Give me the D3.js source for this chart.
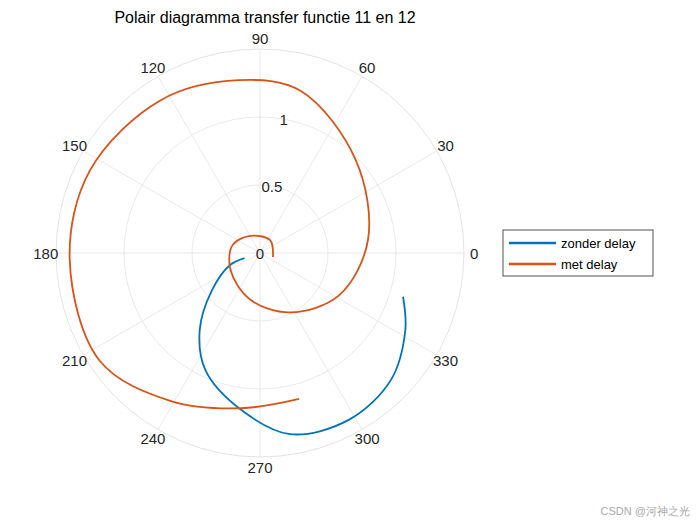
<!DOCTYPE html><html><head><meta charset="utf-8"><script src="https://cdn.jsdelivr.net/npm/d3@7"></script>
<style>body{margin:0;background:#fff}text{font-family:Arial,"Liberation Sans",sans-serif}</style></head><body>
<svg id="c" width="700" height="525"></svg>
<script>
const title="Polair diagramma transfer functie 11 en 12";
const seriesNames=["zonder delay","met delay"];
const colors=["#0072BD","#D95319"];
// angles (deg), magnitudes
const blueTheta=[-17,-28,-44,-62,-80.6,-97,-115,-128,-142,-158,-162];
const blueR=[1.10,1.21,1.34,1.39,1.35,1.16,0.95,0.72,0.45,0.24,0.12];
const orangeTheta=[-17,52,120,164,210,258,297,332,367,404,436,457,483,514,542,574,599,623,645];
const orangeR=[0.10,0.12,0.145,0.21,0.25,0.35,0.49,0.66,0.80,0.98,1.23,1.28,1.34,1.39,1.40,1.42,1.27,1.15,1.11];
const rTicks=[0,0.5,1];
const rGrid=[0.5,1,1.5];
const thetaTicks=[0,30,60,90,120,150,180,210,240,270,300,330];

const svg=d3.select("#c"),cx=260,cy=253;
const r=d3.scaleLinear().domain([0,1.5]).range([0,204]);
const pt=(t,v)=>[cx+r(v)*Math.cos(t*Math.PI/180),cy-r(v)*Math.sin(t*Math.PI/180)];
const g=svg.append("g");
rGrid.forEach((v,i)=>g.append("circle").attr("cx",cx).attr("cy",cy).attr("r",r(v)).attr("fill","none").attr("stroke",i==rGrid.length-1?"#dcdcdc":"#e3e3e3").attr("stroke-width",0.8));
thetaTicks.forEach(t=>{const p=pt(t,1.5);g.append("line").attr("x1",cx).attr("y1",cy).attr("x2",p[0]).attr("y2",p[1]).attr("stroke","#e3e3e3").attr("stroke-width",0.8);
 const q=pt(t,1.5+0.075);g.append("text").attr("x",q[0]).attr("y",q[1]).attr("text-anchor","middle").attr("dominant-baseline","central").attr("font-size",15).attr("fill","#262626").text(t);});
rTicks.forEach(v=>{const p=pt(80,v);g.append("text").attr("x",p[0]).attr("y",p[1]).attr("text-anchor","middle").attr("dominant-baseline","central").attr("font-size",15).attr("fill","#262626").text(v);});
const line=d3.line().curve(d3.curveCatmullRom);
[[blueTheta,blueR],[orangeTheta,orangeR]].forEach(([T,R],i)=>{
 svg.append("path").attr("d",line(T.map((t,j)=>pt(t,R[j])))).attr("fill","none").attr("stroke",colors[i]).attr("stroke-width",1.8);});
svg.append("text").attr("x",265).attr("y",23).attr("text-anchor","middle").attr("font-size",16).attr("fill","#000").text(title);
const lg=svg.append("g");
lg.append("rect").attr("x",503).attr("y",230).attr("width",150).attr("height",46).attr("fill","#fff").attr("stroke","#262626").attr("stroke-width",0.8);
seriesNames.forEach((n,i)=>{const y=243+i*21;
 lg.append("line").attr("x1",509).attr("x2",556).attr("y1",y).attr("y2",y).attr("stroke",colors[i]).attr("stroke-width",2.5);
 lg.append("text").attr("x",561).attr("y",y).attr("dominant-baseline","central").attr("font-size",13).text(n);});
svg.append("text").attr("x",690).attr("y",515).attr("text-anchor","end").attr("font-size",11).attr("fill","#aaa").attr("font-family","'Noto Sans CJK SC',sans-serif").text("CSDN @河神之光");
</script></body></html>
